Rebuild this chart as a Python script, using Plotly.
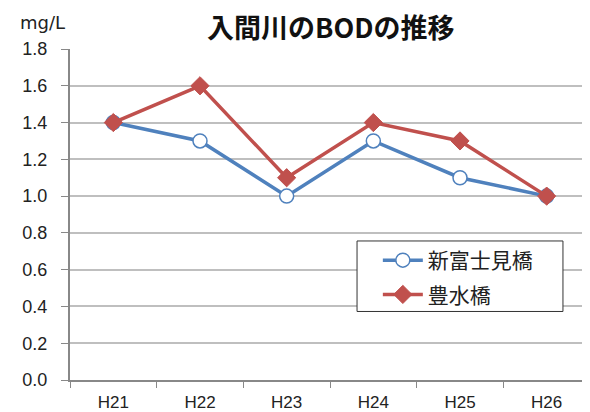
import plotly.graph_objects as go

categories = ["H21", "H22", "H23", "H24", "H25", "H26"]
shinfujimi = [1.4, 1.3, 1.0, 1.3, 1.1, 1.0]
housui = [1.4, 1.6, 1.1, 1.4, 1.3, 1.0]
y_ticks = [0.0, 0.2, 0.4, 0.6, 0.8, 1.0, 1.2, 1.4, 1.6, 1.8]

BLUE = "#4F81BD"
RED = "#C0504D"
FONT = "Noto Sans CJK JP"
TICKFONT = "Liberation Sans"

fig = go.Figure()
fig.add_trace(go.Scatter(
    x=categories, y=shinfujimi, name="新富士見橋", mode="lines+markers",
    legendgroup="a",
    line=dict(color=BLUE, width=3.5),
    marker=dict(symbol="circle", size=14, color="white", line=dict(color=BLUE, width=1.5)),
))
fig.add_trace(go.Scatter(
    x=categories, y=housui, name="豊水橋", mode="lines+markers",
    legendgroup="b",
    line=dict(color=RED, width=3.5),
    marker=dict(symbol="diamond", size=14, color=RED, line=dict(color=RED, width=1)),
))

fig.update_layout(
    width=582, height=404,
    margin=dict(l=62, r=0, t=41, b=30),
    paper_bgcolor="white", plot_bgcolor="white",
    xaxis=dict(
        type="category", range=[-0.5, 5.5], tickson="boundaries",
        ticks="outside", ticklen=6, tickcolor="#888", tickwidth=1,
        showline=True, linecolor="#888", linewidth=2, showgrid=False,
        ticklabelstandoff=6,
        tickfont=dict(family=TICKFONT, size=17, color="#222"),
    ),
    yaxis=dict(
        range=[0, 1.8], tickvals=y_ticks, ticktext=[f"{v:.1f}" for v in y_ticks],
        ticks="outside", ticklen=7, tickcolor="#888", tickwidth=1,
        showline=True, linecolor="#888", linewidth=2,
        showgrid=True, gridcolor="#BFBFBF", gridwidth=1.5, zeroline=False,
        ticklabelstandoff=10,
        tickfont=dict(family=TICKFONT, size=18, color="#222"),
    ),
    legend=dict(
        x=0.592, y=0.423, xanchor="left", yanchor="top",
        borderwidth=0, bgcolor="rgba(0,0,0,0)",
        font=dict(family=FONT, size=21, color="#222"),
        itemwidth=40, tracegroupgap=4,
    ),
    showlegend=True,
)
fig.add_shape(type="rect", xref="paper", yref="paper", x0=0.552, x1=0.948, y0=0.207, y1=0.420,
              line=dict(color="#333", width=1), fillcolor="white", layer="above")
fig.add_annotation(text="<b>入間川のBODの推移</b>", xref="paper", yref="paper", x=0.5, y=1.068,
                   xanchor="center", yanchor="middle", showarrow=False,
                   font=dict(family=FONT, size=27, color="#111"))
fig.add_annotation(text="mg/L", xref="paper", yref="paper", x=-0.10, y=1.081,
                   xanchor="left", yanchor="middle", showarrow=False,
                   font=dict(family="DejaVu Sans", size=18, color="#222"))

fig.write_html("out.html")
